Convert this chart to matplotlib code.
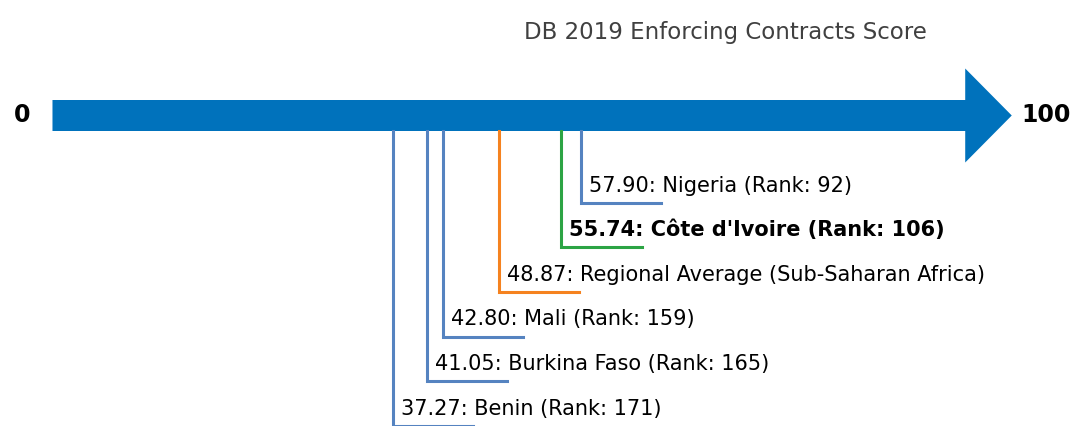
import matplotlib.pyplot as plt
from matplotlib.patches import FancyArrow

names = ["Nigeria (Rank: 92)", "Côte d'Ivoire (Rank: 106)",
         "Regional Average (Sub-Saharan Africa)", "Mali (Rank: 159)",
         "Burkina Faso (Rank: 165)", "Benin (Rank: 171)"]
scores = [57.90, 55.74, 48.87, 42.80, 41.05, 37.27]
kinds = ["peer", "focus", "region", "peer", "peer", "peer"]

colors = {"peer": "#5583c0", "focus": "#2ca444", "region": "#f5821f"}

fig = plt.figure(figsize=(10.71, 4.26), dpi=100)
ax = fig.add_axes([0, 0, 1, 1])
ax.set_xlim(-5.75, 111.59)
ax.set_ylim(426, 0)
ax.axis("off")

# the scale arrow, 0 .. 100
ax.add_patch(FancyArrow(0, 115.5, 105.1, 0, width=31, head_width=94,
                        head_length=5.1, length_includes_head=True,
                        color="#0072bc", lw=0))
ax.text(-2.4, 115.5, "0", ha="right", va="center", fontsize=17,
        fontweight="bold")
ax.text(106.2, 115.5, "100", ha="left", va="center", fontsize=17,
        fontweight="bold")

for i in range(len(scores)):
    foot = 202.7 + 44.6 * i
    c = colors[kinds[i]]
    ax.plot([scores[i], scores[i], scores[i] + 8.8], [131, foot, foot],
            color=c, lw=2.2, solid_joinstyle="miter", clip_on=False)
    w = "bold" if kinds[i] == "focus" else "normal"
    ax.text(scores[i] + 0.9, foot - 11, "%.2f: %s" % (scores[i], names[i]),
            ha="left", va="baseline", fontsize=15, fontweight=w)

fig.text(725 / 1071, 1 - 32 / 426, "DB 2019 Enforcing Contracts Score",
         ha="center", va="center", fontsize=16.5, color="#404040")

fig.savefig("out.png", dpi=100)
